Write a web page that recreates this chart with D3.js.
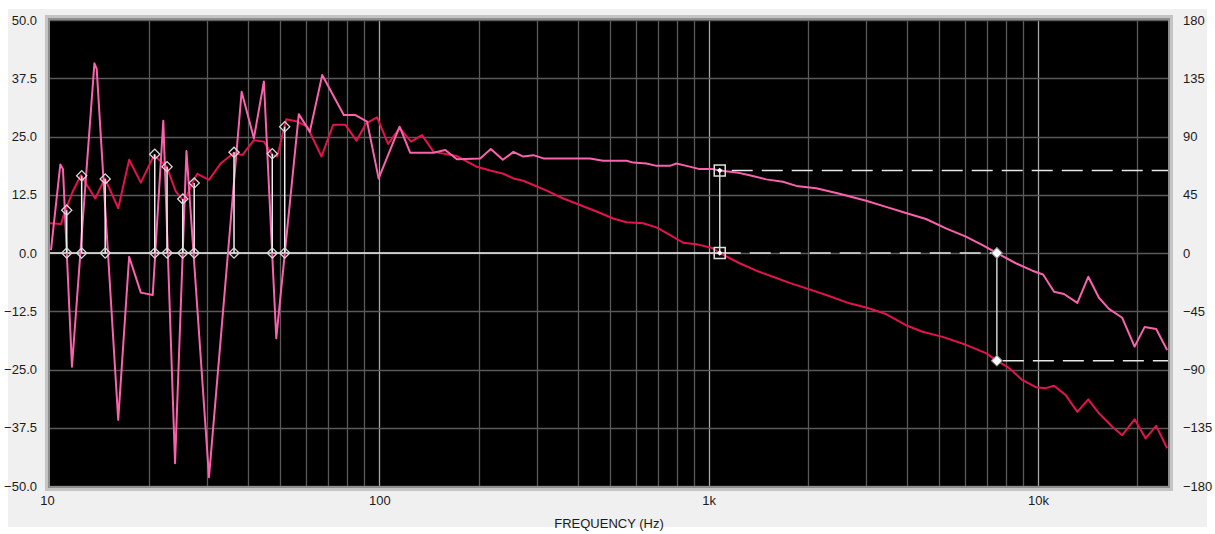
<!DOCTYPE html>
<html><head><meta charset="utf-8">
<script src="https://cdn.jsdelivr.net/npm/d3@7"></script>
<style>body{margin:0;background:#fff;}svg{display:block;}</style>
</head><body>
<svg id="c" width="1215" height="534"></svg>
<script>
// ---- data ----
const magTicks = [50, 37.5, 25, 12.5, 0, -12.5, -25, -37.5, -50];
const phaseTicks = [180, 135, 90, 45, 0, -45, -90, -135, -180];
const freqTicks = [10, 100, 1000, 10000];
const freqTickLabels = ["10", "100", "1k", "10k"];

const pinkFreq = [10.07,10.75,10.95,11.66,13.64,13.86,16.11,17.39,18.87,20.51,22.08,23.97,25.96,30.39,38.18,41.59,44.61,48.64,56.94,61.49,67.07,77.97,84.59,91.78,99.5,115.2,124.1,146.1,158.5,172.0,202.3,218.0,237.1,255.3,273.7,293.5,314.7,436,478,563,590,647,694,762,798,856,939,1030,1080,1213,1331,1495,1680,1845,2121,2495,3006,3455,3972,4567,5252,6038,6780,7496,8558,9609,10356,11180,11990,13155,14202,15304,16412,18010,19634,21051,22832,24651];
const pinkVal = [0.6,19.0,18.0,-24.4,40.7,39.5,-35.8,-0.8,-8.5,-9.0,28.4,-45.1,21.9,-48.1,34.6,24.6,36.8,-18.3,29.8,26.0,38.2,29.6,29.6,28.2,16.0,27.1,21.5,21.5,22.1,20.1,20.3,22.3,20.0,21.7,20.7,21.0,20.3,20.3,19.8,19.8,19.4,19.2,18.7,18.7,19.2,18.7,18.0,18.0,17.7,17.3,16.7,15.8,15.3,14.4,13.9,12.7,11.2,9.9,8.6,7.3,5.3,3.5,1.7,0.0,-2.2,-3.8,-4.6,-8.3,-8.8,-10.7,-5.1,-9.6,-12.0,-13.9,-20.1,-15.9,-16.3,-20.8];

const redFreq = [10.0,10.80,11.05,11.72,12.41,13.72,14.68,16.11,17.39,18.87,20.70,22.62,24.09,25.53,27.36,28.02,30.39,32.97,36.18,38.37,41.59,44.61,47.30,48.98,52.16,56.31,60.38,66.73,72.39,78.88,85.18,91.14,98.4,106.3,115.2,124.8,134.7,146.1,172.0,197.8,217.0,238.1,255.3,273.7,293.5,322.2,361.8,406.5,456.7,512.9,563.2,632.2,694.2,761.7,835.9,917.8,1030,1080,1241,1395,1566,1760,1978,2274,2675,3006,3455,3972,4460,5129,6038,6942,7496,8168,8966,9840,10550,11180,12130,13155,14202,15304,16800,18010,19634,21210,22832,24651];
const redVal = [6.4,6.2,8.5,13.2,16.7,11.7,16.0,9.6,20.0,15.1,21.0,18.5,13.2,11.0,15.7,17.0,15.7,19.2,21.5,21.0,24.2,23.9,21.0,20.7,28.7,28.2,27.1,20.7,27.5,27.5,24.1,27.8,29.1,23.4,26.8,23.9,25.3,21.7,20.8,18.5,17.7,17.0,16.0,15.5,14.6,13.4,11.7,10.3,8.9,7.4,6.6,6.4,5.5,3.9,2.2,1.9,1.0,0.0,-2.2,-3.8,-5.1,-6.4,-7.6,-9.0,-10.8,-11.7,-13.1,-15.5,-16.9,-18.0,-19.7,-21.5,-23.1,-24.7,-27.3,-28.8,-29.0,-28.5,-30.5,-34.1,-31.4,-34.4,-37.3,-39.1,-35.7,-39.8,-37.1,-41.9];

const zeroMarkFreq = [11.24,12.48,14.71,20.8,22.67,25.3,27.4,36.2,47.3,51.6];
const zeroMarkVal = [9.2,16.6,15.9,21.2,18.5,11.6,15.0,21.6,21.3,27.1];

const cursor1Freq = 1080, cursor1Vals = [17.7, 0.0];
const cursor2Freq = 7496, cursor2Vals = [0.0, -23.1];

const xTitle = "FREQUENCY (Hz)";

// ---- layout ----
const L = 50, R = 1168, T = 20, B = 486;
const svg = d3.select("#c");
const x = d3.scaleLog().domain([10, 24800]).range([L, R]);
const y = d3.scaleLinear().domain([-50, 50]).range([B, T]);
const yR = d3.scaleLinear().domain([-180, 180]).range([B, T]);
const font = "'Liberation Sans', Arial, sans-serif";

svg.append("rect").attr("x",8).attr("y",9).attr("width",1199).attr("height",518).attr("fill","#f0f0f0");
// frame bevel
svg.append("rect").attr("x",45).attr("y",15).attr("width",R-L+10).attr("height",B-T+10).attr("fill","#c4c4c4");
svg.append("rect").attr("x",48).attr("y",18).attr("width",R-L+4).attr("height",B-T+4).attr("fill","#8e8e8e");
svg.append("rect").attr("x",L).attr("y",T).attr("width",R-L).attr("height",B-T).attr("fill","#000");

const defs = svg.append("defs");
defs.append("clipPath").attr("id","clip").append("rect").attr("x",L).attr("y",T).attr("width",R-L).attr("height",B-T);

const g = svg.append("g").attr("clip-path","url(#clip)");

// vertical grid
const minorF = [];
for (let dec = 10; dec <= 10000; dec *= 10) for (let m = 1; m <= 9; m++) { const f = m*dec; if (f > 10 && f < 24800) minorF.push(f); }
g.selectAll("line.vg").data(minorF).enter().append("line")
  .attr("x1", d => Math.round(x(d))+0.5).attr("x2", d => Math.round(x(d))+0.5)
  .attr("y1", T).attr("y2", B)
  .attr("stroke", d => [100,1000,10000].includes(d) ? "#a6a6a6" : "#5a5a5a").attr("stroke-width", 1.3);
// horizontal grid
g.selectAll("line.hg").data(magTicks).enter().append("line")
  .attr("x1", L).attr("x2", R)
  .attr("y1", d => Math.round(y(d))+0.5).attr("y2", d => Math.round(y(d))+0.5)
  .attr("stroke", "#5a5a5a").attr("stroke-width", 1.3);

// cursor reference lines
const dash = "21,9";
g.append("line").attr("x1",L).attr("x2",x(cursor1Freq)).attr("y1",y(0)).attr("y2",y(0)).attr("stroke","#f4f4f4").attr("stroke-width",1.5);
g.append("line").attr("x1",x(cursor1Freq)).attr("x2",x(cursor2Freq)).attr("y1",y(0)).attr("y2",y(0)).attr("stroke","#e8e8e8").attr("stroke-width",1.5).attr("stroke-dasharray",dash);
g.append("line").attr("x1",x(cursor1Freq)).attr("x2",R).attr("y1",y(cursor1Vals[0])).attr("y2",y(cursor1Vals[0])).attr("stroke","#e8e8e8").attr("stroke-width",1.5).attr("stroke-dasharray",dash).attr("stroke-dashoffset",-12);
g.append("line").attr("x1",x(cursor2Freq)).attr("x2",R).attr("y1",y(cursor2Vals[1])).attr("y2",y(cursor2Vals[1])).attr("stroke","#e8e8e8").attr("stroke-width",1.5).attr("stroke-dasharray",dash).attr("stroke-dashoffset",-6);

// traces
const line = d3.line().x(d => x(d[0])).y(d => y(d[1]));
g.append("path").datum(d3.zip(redFreq, redVal)).attr("d", line).attr("fill","none").attr("stroke","#e3134d").attr("stroke-width",2).attr("stroke-linejoin","round");
g.append("path").datum(d3.zip(pinkFreq, pinkVal)).attr("d", line).attr("fill","none").attr("stroke","#fb62ad").attr("stroke-width",2).attr("stroke-linejoin","round");

// zero markers
const zm = d3.zip(zeroMarkFreq, zeroMarkVal);
g.selectAll("line.zm").data(zm).enter().append("line")
  .attr("x1", d => x(d[0])).attr("x2", d => x(d[0])).attr("y1", d => y(d[1])).attr("y2", y(0))
  .attr("stroke","#f0f0f0").attr("stroke-width",1.5);
const diamond = d3.symbol().type(d3.symbolSquare).size(52);
g.selectAll("path.zu").data(zm).enter().append("path").attr("d", diamond)
  .attr("transform", d => `translate(${x(d[0])},${y(d[1])}) rotate(45)`)
  .attr("fill","none").attr("stroke","#d8d8d8").attr("stroke-width",1.3);
g.selectAll("path.zl").data(zm).enter().append("path").attr("d", diamond)
  .attr("transform", d => `translate(${x(d[0])},${y(0)}) rotate(45)`)
  .attr("fill","none").attr("stroke","#d8d8d8").attr("stroke-width",1.3);

// cursor 1
g.append("line").attr("x1",x(cursor1Freq)).attr("x2",x(cursor1Freq)).attr("y1",y(cursor1Vals[0])).attr("y2",y(cursor1Vals[1])).attr("stroke","#d0d0d0").attr("stroke-width",1.5);
cursor1Vals.forEach(v => {
  g.append("rect").attr("x",x(cursor1Freq)-5.5).attr("y",y(v)-5.5).attr("width",11).attr("height",11).attr("fill","none").attr("stroke","#e0e0e0").attr("stroke-width",1.5);
  g.append("path").attr("d", d3.symbol().type(d3.symbolSquare).size(16)).attr("transform",`translate(${x(cursor1Freq)},${y(v)}) rotate(45)`).attr("fill","#fff");
});
// cursor 2
g.append("line").attr("x1",x(cursor2Freq)).attr("x2",x(cursor2Freq)).attr("y1",y(cursor2Vals[0])).attr("y2",y(cursor2Vals[1])).attr("stroke","#d0d0d0").attr("stroke-width",1.5);
cursor2Vals.forEach(v => {
  g.append("path").attr("d", d3.symbol().type(d3.symbolSquare).size(60)).attr("transform",`translate(${x(cursor2Freq)},${y(v)}) rotate(45)`).attr("fill","#fff").attr("stroke","#8a8a8a").attr("stroke-width",1);
});

// axes
const axL = svg.append("g").attr("transform",`translate(${L},0)`)
  .call(d3.axisLeft(y).tickValues(magTicks).tickFormat(d3.format(".1f")).tickSize(0).tickPadding(13));
const axR = svg.append("g").attr("transform",`translate(${R},0)`)
  .call(d3.axisRight(yR).tickValues(phaseTicks).tickFormat(d3.format("d")).tickSize(0).tickPadding(15));
const axB = svg.append("g").attr("transform",`translate(0,${B})`)
  .call(d3.axisBottom(x).tickValues(freqTicks).tickFormat((d,i) => freqTickLabels[i]).tickSize(0).tickPadding(10));
[axL, axR, axB].forEach(a => {
  a.select(".domain").remove();
  a.selectAll("text").attr("font-family", font).attr("font-size", 13).attr("fill", "#1b1b1b");
});
axB.selectAll("text").attr("dx", (d,i) => i === 0 ? -3 : 0);

svg.append("text").attr("x", 609).attr("y", 528).attr("text-anchor","middle")
  .attr("font-family", font).attr("font-size", 13).attr("fill","#1b1b1b").text(xTitle);
</script>
</body></html>
